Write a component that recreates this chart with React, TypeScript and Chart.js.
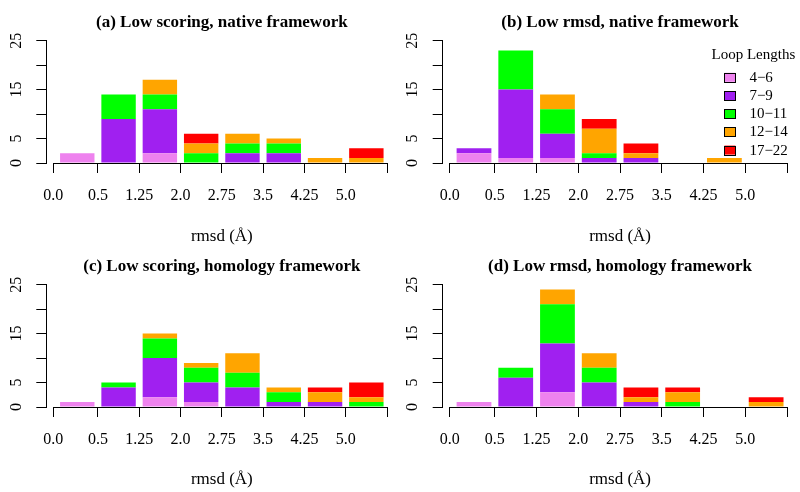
import React, { useEffect, useRef } from "react";
import { Chart, registerables } from "chart.js";

Chart.register(...registerables);

// ---------- data ----------
const binCategories = ["0.0–0.5", "0.5–1.25", "1.25–2.0", "2.0–2.75", "2.75–3.5", "3.5–4.25", "4.25–5.0", "5.0+"];
const loopLengthLabels = ["4−6", "7−9", "10−11", "12−14", "17−22"];
const loopColors = ["#EE82EE", "#A020F0", "#00FF00", "#FFA500", "#FF0000"];

// x tick positions in bin-index units (bin edges) and their labels
const xTickValues = [-0.58, 0.5, 1.5, 2.5, 3.5, 4.5, 5.5, 6.5, 7.5];
const xTickLabels = ["0.0", "0.5", "1.25", "2.0", "2.75", "3.5", "4.25", "5.0", ""];
const yTickValues = [0, 5, 10, 15, 20, 25];
const yTickLabels = ["0", "5", "", "15", "", "25"];
const xAxisTitle = "rmsd (Å)";
const legendTitle = "Loop Lengths";

// (a) Low scoring, native framework
const aLoop4to6 = [2, 0, 2, 0, 0, 0, 0, 0];
const aLoop7to9 = [0, 9, 9, 0, 2, 2, 0, 0];
const aLoop10to11 = [0, 5, 3, 2, 2, 2, 0, 0];
const aLoop12to14 = [0, 0, 3, 2, 2, 1, 1, 1];
const aLoop17to22 = [0, 0, 0, 2, 0, 0, 0, 2];

// (b) Low rmsd, native framework
const bLoop4to6 = [2, 1, 1, 0, 0, 0, 0, 0];
const bLoop7to9 = [1, 14, 5, 1, 1, 0, 0, 0];
const bLoop10to11 = [0, 8, 5, 1, 0, 0, 0, 0];
const bLoop12to14 = [0, 0, 3, 5, 1, 0, 1, 0];
const bLoop17to22 = [0, 0, 0, 2, 2, 0, 0, 0];

// (c) Low scoring, homology framework
const cLoop4to6 = [1, 0, 2, 1, 0, 0, 0, 0];
const cLoop7to9 = [0, 4, 8, 4, 4, 1, 1, 0];
const cLoop10to11 = [0, 1, 4, 3, 3, 2, 0, 1];
const cLoop12to14 = [0, 0, 1, 1, 4, 1, 2, 1];
const cLoop17to22 = [0, 0, 0, 0, 0, 0, 1, 3];

// (d) Low rmsd, homology framework
const dLoop4to6 = [1, 0, 3, 0, 0, 0, 0, 0];
const dLoop7to9 = [0, 6, 10, 5, 1, 0, 0, 0];
const dLoop10to11 = [0, 2, 8, 3, 0, 1, 0, 0];
const dLoop12to14 = [0, 0, 3, 3, 1, 2, 0, 1];
const dLoop17to22 = [0, 0, 0, 0, 2, 1, 0, 1];

const panelTitles = [
  "(a) Low scoring, native framework",
  "(b) Low rmsd, native framework",
  "(c) Low scoring, homology framework",
  "(d) Low rmsd, homology framework",
];
const panelSeries = [
  [aLoop4to6, aLoop7to9, aLoop10to11, aLoop12to14, aLoop17to22],
  [bLoop4to6, bLoop7to9, bLoop10to11, bLoop12to14, bLoop17to22],
  [cLoop4to6, cLoop7to9, cLoop10to11, cLoop12to14, cLoop17to22],
  [dLoop4to6, dLoop7to9, dLoop10to11, dLoop12to14, dLoop17to22],
];

// ---------- layout (positions / sizes) ----------
const FONT = '"Liberation Serif", "Times New Roman", serif';
const panelLayouts = [
  { left: 0, top: 0, yAxisW: 46.3, padR: 9.1, padT: 40.7, xAxisH: 83, titleGap: 14, xTitleGap: 77.5, legend: false },
  { left: 400, top: 0, yAxisW: 42.7, padR: 11.5, padT: 40.7, xAxisH: 83, titleGap: 14, xTitleGap: 77.5, legend: true },
  { left: 0, top: 246, yAxisW: 46.3, padR: 9.1, padT: 38.7, xAxisH: 85, titleGap: 14, xTitleGap: 77.3, legend: false },
  { left: 400, top: 246, yAxisW: 42.7, padR: 11.5, padT: 38.7, xAxisH: 85, titleGap: 14, xTitleGap: 77.3, legend: false },
];

const decorPlugin = {
  id: "panelDecor",
  afterDraw(chart: any, _args: any, opts: any) {
    const { ctx, chartArea, scales } = chart;
    const x = scales.x;
    const y = scales.y;
    const cx = x.getPixelForValue((0 + (binCategories.length - 1)) / 2);
    ctx.save();
    // x axis baseline (first to last tick)
    ctx.strokeStyle = "#000";
    ctx.lineWidth = 1;
    const y0 = Math.round(y.getPixelForValue(0)) + 0.5;
    ctx.beginPath();
    ctx.moveTo(x.getPixelForValue(xTickValues[0]), y0);
    ctx.lineTo(x.getPixelForValue(xTickValues[xTickValues.length - 1]), y0);
    ctx.stroke();
    // title
    ctx.fillStyle = "#000";
    ctx.textAlign = "center";
    ctx.textBaseline = "alphabetic";
    ctx.font = `bold 17px ${FONT}`;
    ctx.fillText(opts.title, cx, chartArea.top - opts.titleGap);
    // x axis title
    ctx.font = `17px ${FONT}`;
    ctx.fillText(xAxisTitle, cx, chartArea.bottom + opts.xTitleGap);
    // legend
    if (opts.legend) {
      const r = chartArea.right;
      const t = chartArea.top;
      ctx.font = `15px ${FONT}`;
      ctx.textAlign = "center";
      ctx.fillText(legendTitle, r - 33.6, t + 17.8);
      chart.data.datasets.forEach((ds: any, i: number) => {
        const cy = t + 36.6 + i * 18.2;
        const bx = r - 62.6;
        ctx.fillStyle = ds.backgroundColor;
        ctx.fillRect(bx, cy - 4.5, 11, 9);
        ctx.strokeStyle = "#000";
        ctx.lineWidth = 1;
        ctx.strokeRect(Math.round(bx) + 0.5, Math.round(cy - 4.5) + 0.5, 11, 9);
        ctx.fillStyle = "#000";
        ctx.textAlign = "left";
        ctx.textBaseline = "middle";
        ctx.fillText(ds.label, r - 37.6, cy + 0.5);
      });
    }
    ctx.restore();
  },
};

function Panel({ index }: { index: number }) {
  const ref = useRef<HTMLCanvasElement | null>(null);
  const lay = panelLayouts[index];
  useEffect(() => {
    if (!ref.current) return;
    const datasets = panelSeries[index].map((vals, k) => ({
      label: loopLengthLabels[k],
      data: vals.map((v, i) => ({ x: i, y: v })),
      backgroundColor: loopColors[k],
      borderWidth: 0,
      stack: "s",
      categoryPercentage: 1,
      barPercentage: 1 / 1.2,
    }));
    const chart = new Chart(ref.current, {
      type: "bar",
      data: { datasets },
      plugins: [decorPlugin],
      options: {
        animation: false,
        responsive: true,
        maintainAspectRatio: false,
        devicePixelRatio: 1,
        layout: { padding: { left: 0, right: lay.padR, top: lay.padT, bottom: 0 } },
        plugins: {
          legend: { display: false },
          tooltip: { enabled: false },
          title: { display: false },
          panelDecor: {
            title: panelTitles[index],
            titleGap: lay.titleGap,
            xTitleGap: lay.xTitleGap,
            legend: lay.legend,
          },
        } as any,
        scales: {
          x: {
            type: "linear",
            stacked: true,
            min: -0.75,
            max: 7.5,
            offset: false,
            afterBuildTicks: (scale: any) => {
              scale.ticks = xTickValues.map((v) => ({ value: v }));
            },
            afterFit: (scale: any) => {
              scale.height = lay.xAxisH;
            },
            grid: {
              display: true,
              offset: false,
              drawOnChartArea: false,
              drawTicks: true,
              tickLength: 10,
              color: "#000",
              lineWidth: 1,
            },
            border: { display: false },
            ticks: {
              autoSkip: false,
              maxRotation: 0,
              minRotation: 0,
              padding: 13,
              color: "#000",
              font: { family: FONT, size: 16 },
              callback: (_v: any, i: number) => xTickLabels[i] ?? "",
            },
          },
          y: {
            type: "linear",
            stacked: true,
            min: 0,
            max: 25,
            afterBuildTicks: (scale: any) => {
              scale.ticks = yTickValues.map((v) => ({ value: v }));
            },
            afterFit: (scale: any) => {
              scale.width = lay.yAxisW;
            },
            grid: {
              display: true,
              drawOnChartArea: false,
              drawTicks: true,
              tickLength: 10,
              color: "#000",
              lineWidth: 1,
            },
            border: { display: true, color: "#000", width: 1 },
            ticks: {
              autoSkip: false,
              minRotation: 90,
              maxRotation: 90,
              crossAlign: "center",
              padding: 12,
              color: "#000",
              font: { family: FONT, size: 16 },
              callback: (_v: any, i: number) => yTickLabels[i] ?? "",
            },
          },
        },
      } as any,
    });
    return () => chart.destroy();
  }, [index]);
  return (
    <div style={{ position: "absolute", left: lay.left, top: lay.top, width: 400, height: 246 }}>
      <canvas ref={ref} />
    </div>
  );
}

export default function App() {
  return (
    <div style={{ position: "fixed", left: 0, top: 0, width: 800, height: 492, background: "#fff" }}>
      {panelTitles.map((_, i) => (
        <Panel key={i} index={i} />
      ))}
    </div>
  );
}
